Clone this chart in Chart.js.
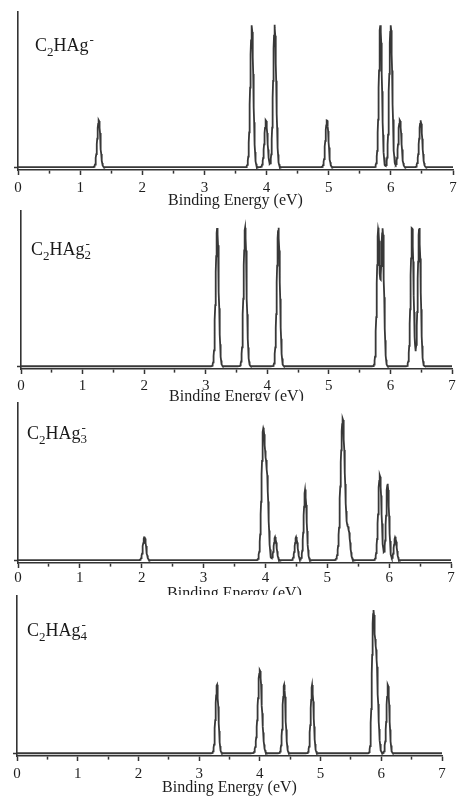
<!DOCTYPE html>
<html><head><meta charset="utf-8">
<script src="https://cdn.jsdelivr.net/npm/chart.js@4.4.1/dist/chart.umd.min.js"></script>
<style>
html,body{margin:0;padding:0;background:#fff;width:476px;height:803px;overflow:hidden;position:relative}
canvas{position:absolute;left:0;background:#fff}
.lab{position:absolute;font-family:'Liberation Serif','Times New Roman',serif;font-size:18px;line-height:18px;color:#1a1a1a;white-space:nowrap;z-index:10}
.sb{font-size:13px;position:relative;top:5px}
.stk{display:inline-block;position:relative;width:7px;height:18px}
.stk .u{position:absolute;left:1px;top:0;font-size:13px;line-height:13px}
.stk .d{position:absolute;left:0;top:11px;font-size:13px;line-height:13px}
</style></head><body>
<canvas id="c1" width="476" height="210" style="top:0px"></canvas>
<canvas id="c2" width="476" height="197" style="top:209px"></canvas>
<canvas id="c3" width="476" height="202" style="top:401px"></canvas>
<canvas id="c4" width="476" height="208" style="top:595px"></canvas>
<div class="lab" style="left:35px;top:33px">C<span class="sb">2</span>HAg<span class="stk"><span class="u">-</span></span></div>
<div class="lab" style="left:31px;top:237px">C<span class="sb">2</span>HAg<span class="stk"><span class="u">-</span><span class="d">2</span></span></div>
<div class="lab" style="left:27px;top:421px">C<span class="sb">2</span>HAg<span class="stk"><span class="u">-</span><span class="d">3</span></span></div>
<div class="lab" style="left:27px;top:618px">C<span class="sb">2</span>HAg<span class="stk"><span class="u">-</span><span class="d">4</span></span></div>
<script>
// ---- data ----
const xTickLabels = ['0','1','2','3','4','5','6','7'];
const xTickValues = [0,0.5,1,1.5,2,2.5,3,3.5,4,4.5,5,5.5,6,6.5,7];
const axisTitle = 'Binding Energy (eV)';

// C2HAg-  (peak centre eV, relative height, gaussian width eV)
const ag1Centers = [1.30, 3.762, 3.99, 4.13, 4.972, 5.832, 5.998, 6.145, 6.48];
const ag1Heights = [0.33, 1.00, 0.33, 1.00, 0.33, 1.00, 1.00, 0.33, 0.33];
const ag1Widths  = [0.025,0.025,0.025,0.025,0.025,0.025,0.025,0.025,0.025];

// C2HAg2-
const ag2Centers = [3.187, 3.64, 4.18, 5.803, 5.873, 6.352, 6.468];
const ag2Heights = [1.00, 1.00, 1.00, 0.99, 0.99, 1.00, 1.00];
const ag2Widths  = [0.025,0.025,0.025,0.023,0.023,0.024,0.024];

// C2HAg3-
const ag3Centers = [2.045, 3.965, 4.025, 4.158, 4.498, 4.643, 5.25, 5.345, 5.85, 5.975, 6.10];
const ag3Heights = [0.165, 0.90, 0.55, 0.165, 0.165, 0.50, 1.00, 0.20, 0.60, 0.54, 0.165];
const ag3Widths  = [0.025, 0.028, 0.025, 0.023, 0.023, 0.024, 0.035, 0.025, 0.027, 0.024, 0.022];

// C2HAg4-
const ag4Centers = [3.294, 4.00, 4.40, 4.862, 5.865, 5.915, 6.11];
const ag4Heights = [0.495, 0.60, 0.495, 0.495, 0.83, 0.70, 0.495];
const ag4Widths  = [0.024, 0.033, 0.024, 0.024, 0.021, 0.030, 0.024];

// ---- build broadened spectra from the peak lists ----
function spectrum(centers, heights, widths) {
  const pts = [];
  for (let i = 0; i <= 1400; i++) {
    const x = i * 0.005;
    let y = 0;
    for (let k = 0; k < centers.length; k++) {
      const d = x - centers[k];
      y += heights[k] * Math.exp(-d * d / (2 * widths[k] * widths[k]));
    }
    pts.push({x: x, y: y});
  }
  return pts;
}

const FONT = "'Liberation Serif','Times New Roman',serif";
const INK = '#1e1e1e';

function panel(id, pts, cfg) {
  new Chart(document.getElementById(id), {
    type: 'line',
    data: { datasets: [{ data: pts, borderColor: '#383838', borderWidth: 1.8, pointRadius: 0, tension: 0, fill: false }] },
    options: {
      responsive: false, animation: false, events: [], normalized: true,
      layout: { padding: cfg.pad },
      plugins: { legend: { display: false }, tooltip: { enabled: false } },
      scales: {
        x: {
          type: 'linear', min: 0, max: 7,
          afterBuildTicks: s => { s.ticks = xTickValues.map(v => ({ value: v })); },
          afterFit: s => { s.height = cfg.xh; },
          ticks: {
            autoSkip: false, maxRotation: 0, padding: cfg.tp, color: INK,
            font: { family: FONT, size: 15 },
            callback: v => (Number.isInteger(v) ? xTickLabels[v] : '')
          },
          grid: {
            drawOnChartArea: false, drawTicks: true, tickLength: 5, tickWidth: 1.5, tickColor: '#333',
            tickBorderDash: c => (c.tick && !Number.isInteger(c.tick.value) ? [3, 20] : [])
          },
          border: { display: true, color: '#333', width: 1.6 },
          title: { display: true, text: axisTitle, color: INK, font: { family: FONT, size: 16 }, padding: { top: 0, bottom: cfg.tb } }
        },
        y: {
          type: 'linear', min: -0.02, max: cfg.ymax,
          afterBuildTicks: s => { s.ticks = [{ value: 0 }]; },
          afterFit: s => { s.width = 4; },
          ticks: { display: false },
          grid: { drawOnChartArea: false, drawTicks: true, tickLength: 4, tickWidth: 1.5, tickColor: '#333' },
          border: { display: true, color: '#333', width: 1.6 }
        }
      }
    }
  });
}

panel('c1', spectrum(ag1Centers, ag1Heights, ag1Widths), { pad: { top: 12, bottom: 0, left: 14, right: 23 }, xh: 40, tp: 4, tb: 0, ymax: 1.09 });
panel('c2', spectrum(ag2Centers, ag2Heights, ag2Widths), { pad: { top: 2, bottom: 0, left: 17, right: 24 }, xh: 37, tp: 3, tb: 0, ymax: 1.12 });
panel('c3', spectrum(ag3Centers, ag3Heights, ag3Widths), { pad: { top: 2, bottom: 0, left: 14, right: 25 }, xh: 40, tp: 1, tb: 0, ymax: 1.11 });
panel('c4', spectrum(ag4Centers, ag4Heights, ag4Widths), { pad: { top: 1, bottom: 6, left: 13, right: 34 }, xh: 41, tp: 4, tb: 0, ymax: 1.135 });
</script>
</body></html>
